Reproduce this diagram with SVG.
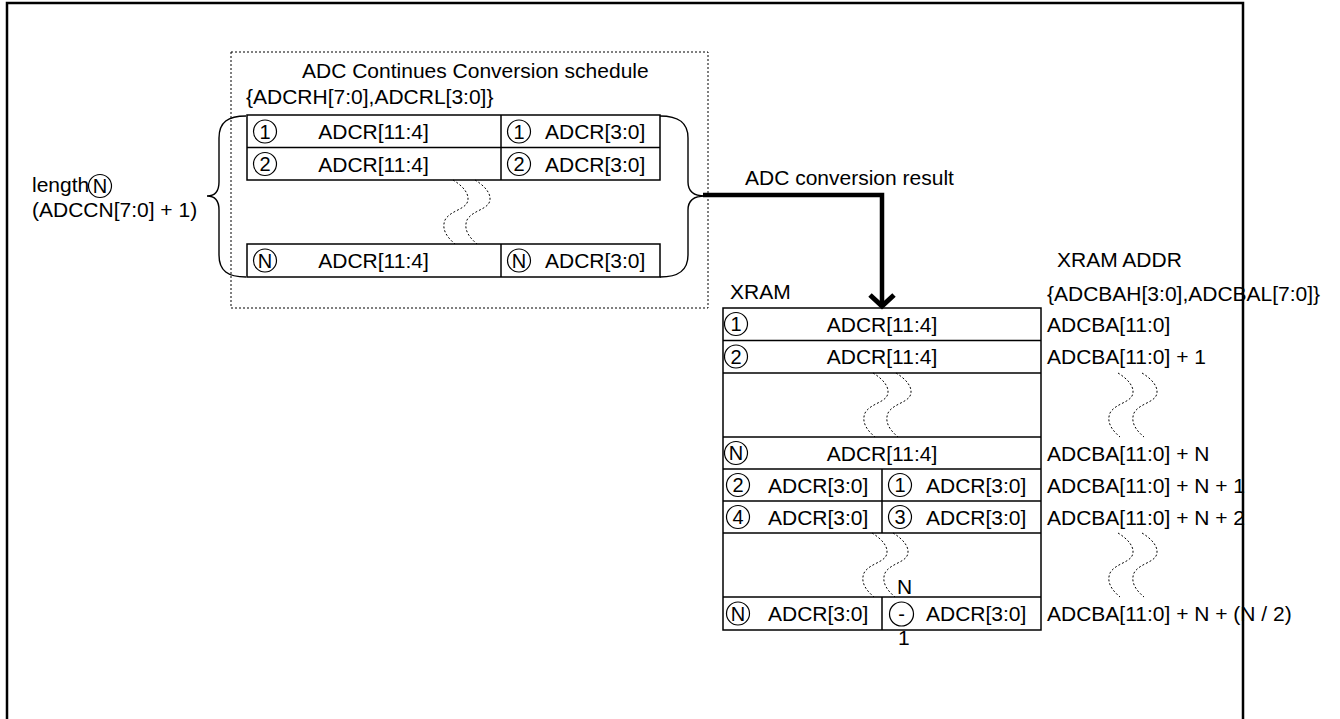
<svg xmlns="http://www.w3.org/2000/svg" xmlns:xlink="http://www.w3.org/1999/xlink" width="1340" height="719" viewBox="0 0 1340 719">
<style>
text{font-family:"Liberation Sans",Arial,sans-serif;font-size:21px;fill:#000}
.cn{font-size:20px;text-anchor:middle}
.mid{text-anchor:middle}
.c{fill:none;stroke:#000;stroke-width:1.2}
.box{fill:none;stroke:#000;stroke-width:1.5}
.ln{stroke:#000;stroke-width:1.5;fill:none}
.dot{fill:none;stroke:#000;stroke-width:1;stroke-dasharray:2 2}
.brace{fill:none;stroke:#000;stroke-width:1.4}
</style>
<defs>
<path id="w" d="M0,0 c10,6 18,15 14,23 c-4,7 -17,8 -22,17 c-4,10 3,18 10,24" class="dot"/>
<marker id="chev" markerUnits="userSpaceOnUse" markerWidth="40" markerHeight="40" viewBox="-20 -20 40 40" refX="0" refY="0" orient="auto" overflow="visible">
<path d="M-11,-12 L0,0 L-11,12" fill="none" stroke="#000" stroke-width="5"/>
</marker>
</defs>
<rect width="1340" height="719" fill="#fff"/>
<g id="frame"><path d="M7,725 V3 H1243 V725" fill="none" stroke="#000" stroke-width="2.5"/></g>

<g id="schedule">
<rect x="231" y="52" width="477" height="256" class="dot"/>
<text x="302" y="78">ADC Continues Conversion schedule</text>
<text x="246" y="104">{ADCRH[7:0],ADCRL[3:0]}</text>
</g>

<g id="sched-table">
<rect x="247" y="115" width="413" height="65" class="box"/>
<line x1="247" y1="147.5" x2="660" y2="147.5" class="ln"/>
<line x1="501" y1="115" x2="501" y2="180" class="ln"/>
<rect x="247" y="244" width="413" height="33" class="box"/>
<line x1="501" y1="244" x2="501" y2="277" class="ln"/>
<circle cx="265" cy="131.5" r="11.5" class="c"/><text x="265" y="138.5" class="cn">1</text>
<text x="373.5" y="139" class="mid">ADCR[11:4]</text>
<circle cx="519" cy="131.5" r="11.5" class="c"/><text x="519" y="138.5" class="cn">1</text>
<text x="545" y="139">ADCR[3:0]</text>
<circle cx="265" cy="164" r="11.5" class="c"/><text x="265" y="171" class="cn">2</text>
<text x="373.5" y="171.5" class="mid">ADCR[11:4]</text>
<circle cx="519" cy="164" r="11.5" class="c"/><text x="519" y="171" class="cn">2</text>
<text x="545" y="171.5">ADCR[3:0]</text>
<circle cx="265" cy="260.5" r="11.5" class="c"/><text x="265" y="267.5" class="cn">N</text>
<text x="373.5" y="268" class="mid">ADCR[11:4]</text>
<circle cx="519" cy="260.5" r="11.5" class="c"/><text x="519" y="267.5" class="cn">N</text>
<text x="545" y="268">ADCR[3:0]</text>
<use xlink:href="#w" x="453" y="180"/>
<use xlink:href="#w" x="475" y="180"/>
</g>

<g id="braces">
<path class="brace" d="M246,116 C228,116 219,122 219,138 L219,182 C219,191 215,196 207,196 C215,196 219,201 219,210 L219,255 C219,271 228,277 246,277"/>
<path class="brace" d="M660,116 C678,116 688,122 688,138 L688,182 C688,191 694,196 705,196 C694,196 688,201 688,210 L688,255 C688,271 678,277 660,277"/>
</g>

<g id="length-label">
<text x="32" y="192">length</text>
<circle cx="100" cy="186" r="11.5" class="c"/><text x="100" y="193" class="cn">N</text>
<text x="32" y="217">(ADCCN[7:0] + 1)</text>
</g>

<g id="connectors">
<path d="M703,195 H882 V306" fill="none" stroke="#000" stroke-width="4.5" marker-end="url(#chev)"/>
<text x="745" y="185">ADC conversion result</text>
</g>

<g id="xram">
<text x="730" y="299">XRAM</text>
<rect x="723" y="308" width="318" height="322" class="box"/>
<line x1="723" y1="340.5" x2="1041" y2="340.5" class="ln"/>
<line x1="723" y1="373" x2="1041" y2="373" class="ln"/>
<line x1="723" y1="437" x2="1041" y2="437" class="ln"/>
<line x1="723" y1="469" x2="1041" y2="469" class="ln"/>
<line x1="723" y1="501" x2="1041" y2="501" class="ln"/>
<line x1="723" y1="533" x2="1041" y2="533" class="ln"/>
<line x1="723" y1="597" x2="1041" y2="597" class="ln"/>
<line x1="882" y1="469" x2="882" y2="533" class="ln"/>
<line x1="882" y1="597" x2="882" y2="630" class="ln"/>
<circle cx="736" cy="324" r="11.5" class="c"/><text x="736" y="331" class="cn">1</text>
<text x="882" y="332" class="mid">ADCR[11:4]</text>
<circle cx="736" cy="356.5" r="11.5" class="c"/><text x="736" y="363.5" class="cn">2</text>
<text x="882" y="364" class="mid">ADCR[11:4]</text>
<circle cx="736" cy="453" r="11.5" class="c"/><text x="736" y="460" class="cn">N</text>
<text x="882" y="460.5" class="mid">ADCR[11:4]</text>
<circle cx="738" cy="485" r="11.5" class="c"/><text x="738" y="492" class="cn">2</text>
<text x="768" y="492.5">ADCR[3:0]</text>
<circle cx="900" cy="485" r="11.5" class="c"/><text x="900" y="492" class="cn">1</text>
<text x="926" y="492.5">ADCR[3:0]</text>
<circle cx="738" cy="517" r="11.5" class="c"/><text x="738" y="524" class="cn">4</text>
<text x="768" y="524.5">ADCR[3:0]</text>
<circle cx="900" cy="517" r="11.5" class="c"/><text x="900" y="524" class="cn">3</text>
<text x="926" y="524.5">ADCR[3:0]</text>
<circle cx="738" cy="613.5" r="11.5" class="c"/><text x="738" y="620.5" class="cn">N</text>
<text x="768" y="621">ADCR[3:0]</text>
<circle cx="901.5" cy="614" r="12" class="c"/><text x="901.5" y="621" class="cn">-</text>
<text x="926" y="621">ADCR[3:0]</text>
<text x="897" y="594">N</text>
<text x="898" y="645">1</text>
<use xlink:href="#w" x="873" y="373"/>
<use xlink:href="#w" x="896" y="373"/>
<use xlink:href="#w" x="872" y="533"/>
<use xlink:href="#w" x="893" y="533"/>
</g>

<g id="xram-addr">
<text x="1057" y="267">XRAM ADDR</text>
<text x="1047" y="301">{ADCBAH[3:0],ADCBAL[7:0]}</text>
<text x="1047" y="332">ADCBA[11:0]</text>
<text x="1047" y="364">ADCBA[11:0] + 1</text>
<text x="1047" y="460.5">ADCBA[11:0] + N</text>
<text x="1047" y="492.5">ADCBA[11:0] + N + 1</text>
<text x="1047" y="524.5">ADCBA[11:0] + N + 2</text>
<text x="1047" y="621">ADCBA[11:0] + N + (N / 2)</text>
<use xlink:href="#w" x="1118" y="373"/>
<use xlink:href="#w" x="1142" y="373"/>
<use xlink:href="#w" x="1118" y="533"/>
<use xlink:href="#w" x="1142" y="533"/>
</g>
</svg>
